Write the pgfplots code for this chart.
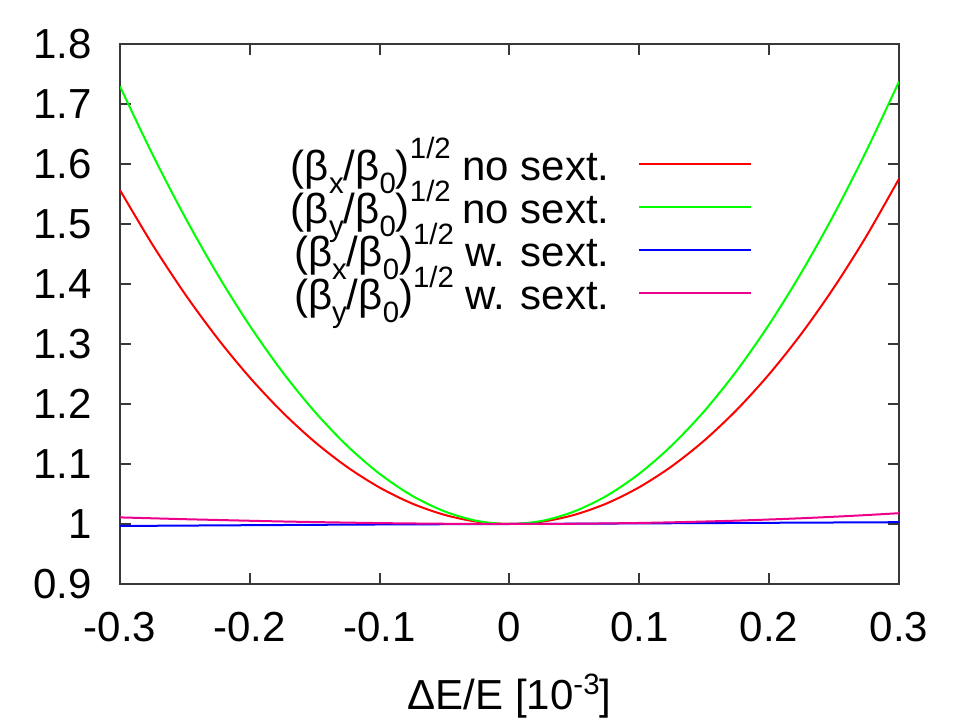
\documentclass[border=0pt]{standalone}
\usepackage{fontspec}
\setmainfont{Liberation Sans}
\usepackage{pgfplots}
\pgfplotsset{compat=1.18}
\newcommand\subx[1]{\raisebox{-6.5pt}{\fontsize{14.7}{15}\selectfont #1}}
\newcommand\supx[2][10.8pt]{\raisebox{#1}{\fontsize{14.7}{15}\selectfont #2}}
\newcommand\ent[2]{\rule[-2.75pt]{0pt}{21.5pt}\smash{(β\subx{#1}/β\subx{0})\supx{1/2} #2}}
\begin{document}
\fontsize{21}{25}\selectfont
\begin{tikzpicture}
\useasboundingbox (-60pt,-68.5pt) rectangle (427pt,292pt);
\begin{axis}[
  at={(0,0)}, anchor=south west,
  width=389.5pt, height=270pt, scale only axis,
  xmin=-0.3, xmax=0.3, ymin=0.9, ymax=1.8,
  xtick={-0.3,-0.2,-0.1,0,0.1,0.2,0.3},
  ytick={0.9,1,1.1,1.2,1.3,1.4,1.5,1.6,1.7,1.8},
  tick align=inside, major tick length=5.5pt,
  axis line style={black!78, line width=1pt},
  tick style={black!78, line width=1pt},
  /pgf/number format/assume math mode=true,
  every tick label/.append style={font=\fontsize{21}{25}\selectfont},
  xticklabel style={anchor=base, yshift=-28.8pt, inner sep=0pt},
  yticklabel style={anchor=east, xshift=-14pt, inner sep=0pt},
  xlabel={ΔE/E [10\supx[7.5pt]{-3}]},
  every axis x label/.style={at={(axis description cs:0.5,0)}, anchor=base, yshift=-63pt, font=\fontsize{21}{25}\selectfont},
  legend style={draw=none, fill=none, at={(0.8113,0.8176)}, anchor=north east,
    inner sep=0pt, row sep=0pt, column sep=14pt,
    nodes={inner sep=0pt, text depth=2.75pt}, font=\fontsize{21}{25}\selectfont},
  legend cell align=right,
  legend plot pos=right,
  legend image code/.code={\path (0pt,-1pt) (0pt,1pt); \draw[#1] (0pt,0pt) -- (56pt,0pt);},
]
\addplot[red, line width=1pt, smooth] table {
x y
-0.300 1.5564
-0.275 1.4657
-0.250 1.3835
-0.225 1.3097
-0.200 1.2441
-0.175 1.1865
-0.150 1.1368
-0.125 1.0949
-0.100 1.0607
-0.075 1.0341
-0.050 1.0152
-0.025 1.0038
0.000 1.0000
0.025 1.0038
0.050 1.0153
0.075 1.0344
0.100 1.0614
0.125 1.0962
0.150 1.1391
0.175 1.1902
0.200 1.2497
0.225 1.3177
0.250 1.3945
0.275 1.4802
0.300 1.5753
};
\addlegendentry{\ent{x}{no sext.}}
\addplot[green, line width=1pt, smooth] table {
x y
-0.300 1.7293
-0.275 1.6161
-0.250 1.5117
-0.225 1.4164
-0.200 1.3303
-0.175 1.2538
-0.150 1.1871
-0.125 1.1303
-0.100 1.0836
-0.075 1.0471
-0.050 1.0210
-0.025 1.0052
0.000 1.0000
0.025 1.0052
0.050 1.0210
0.075 1.0472
0.100 1.0839
0.125 1.1309
0.150 1.1881
0.175 1.2554
0.200 1.3327
0.225 1.4198
0.250 1.5164
0.275 1.6224
0.300 1.7374
};
\addlegendentry{\ent{y}{no sext.}}
\addplot[blue, line width=1pt, smooth] table {
x y
-0.300 0.9967
-0.200 0.9980
-0.100 0.9992
0.000 1.0000
0.100 1.0010
0.200 1.0020
0.300 1.0030
};
\addlegendentry{\ent{x}{w. sext.}}
\addplot[magenta, line width=1pt, smooth] table {
x y
-0.300 1.0110
-0.275 1.0095
-0.250 1.0080
-0.225 1.0067
-0.200 1.0054
-0.175 1.0042
-0.150 1.0032
-0.125 1.0023
-0.100 1.0015
-0.075 1.0009
-0.050 1.0004
-0.025 1.0001
0.000 1.0000
0.025 1.0001
0.050 1.0004
0.075 1.0010
0.100 1.0017
0.125 1.0028
0.150 1.0041
0.175 1.0056
0.200 1.0075
0.225 1.0096
0.250 1.0121
0.275 1.0149
0.300 1.0180
};
\addlegendentry{\ent{y}{w. sext.}}
\end{axis}
\end{tikzpicture}
\end{document}
